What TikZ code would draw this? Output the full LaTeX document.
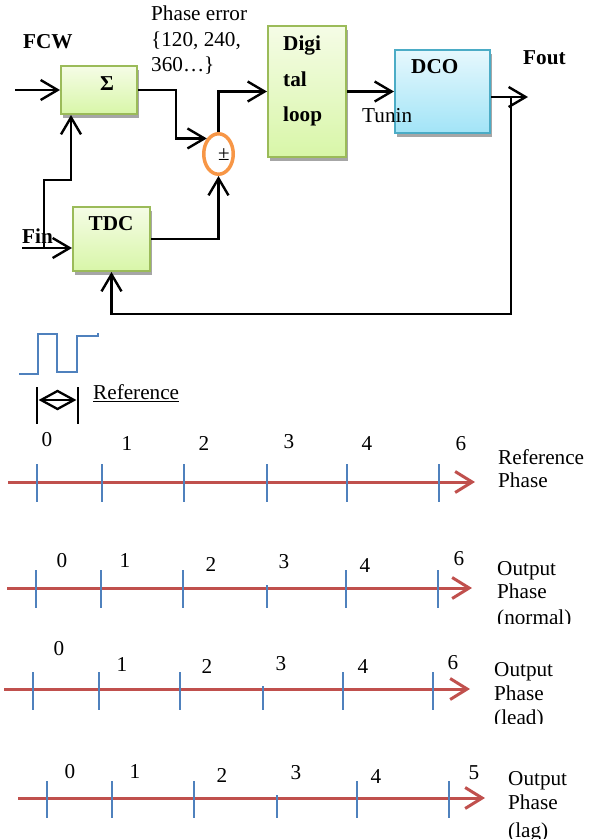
\documentclass[tikz,border=0pt]{standalone}
\usepackage{fontspec}
\setmainfont{Liberation Serif}
\usetikzlibrary{arrows.meta,shapes.geometric,shadows}
\definecolor{gborder}{HTML}{9BBB59}
\definecolor{gtop}{HTML}{F5FCE6}
\definecolor{gbot}{HTML}{D8F6A8}
\definecolor{bborder}{HTML}{4BACC6}
\definecolor{btop}{HTML}{E6F8FD}
\definecolor{bbot}{HTML}{A2E4F7}
\definecolor{ocirc}{HTML}{F79646}
\definecolor{redl}{HTML}{C0504D}
\definecolor{bluel}{HTML}{4F81BD}
\begin{document}
\begin{tikzpicture}[x=1pt,y=-1pt,
  every node/.style={font=\fontsize{21.2}{25}\selectfont, inner sep=0pt},
  txt/.style={text height=0.7em, text depth=0pt},
  bx/.style={draw, line width=2pt, drop shadow={shadow xshift=2pt, shadow yshift=-4pt, opacity=1, fill=black!35}},
  gbox/.style={bx, draw=gborder, top color=gtop, bottom color=gbot},
  bbox/.style={bx, draw=bborder, top color=btop, bottom color=bbot},
  conn/.style={draw=black, line width=2.4pt, -{Straight Barb[length=17pt,width=20pt]}},
  plain/.style={draw=black, line width=2.3pt},
  rline/.style={draw=redl, line width=3pt, -{Straight Barb[length=17pt,width=21pt]}},
  tk/.style={draw=bluel, line width=2pt},
  wave/.style={draw=bluel, line width=2.2pt}
]
\useasboundingbox (0,0) rectangle (590,839);

% ---------- block diagram ----------
\node[gbox, minimum width=76pt, minimum height=48pt] (sig) at (99,90) {};
\node[gbox, minimum width=77pt, minimum height=64pt] (tdc) at (111.5,239) {};
\node[gbox, minimum width=78pt, minimum height=131pt] (dl) at (307,91.5) {};
\node[bbox, minimum width=95pt, minimum height=83pt] (dco) at (442.5,91.5) {};
\node[ellipse, draw=ocirc, line width=3.5pt, minimum width=29.5pt, minimum height=40.5pt] (sum) at (218.5,154) {};

\node[txt] (sigl) at (107,87) {\textbf{Σ}};
\node[txt] (tdcl) at (111,227) {\textbf{TDC}};
\node[txt,anchor=west] (dl1) at (283,47) {\textbf{Digi}};
\node[txt,anchor=west] (dl2) at (283,83) {\textbf{tal}};
\node[txt,anchor=west] (dl3) at (283,118) {\textbf{loop}};
\node[txt,anchor=west] (dcol) at (411,70) {\textbf{DCO}};
\node[txt,anchor=west] (fout) at (523,61) {\textbf{Fout}};
\node[txt,anchor=west] (fcw) at (23,45) {\textbf{FCW}};
\node[txt,anchor=west] (finl) at (22,240) {\textbf{Fin}};
\node[txt,anchor=west] (tun) at (362,119) {Tunin};
\node[txt,anchor=west] (pe1) at (151,17) {Phase error};
\node[txt,anchor=west] (pe2) at (151,43) {\{120, 240,};
\node[txt,anchor=west] (pe3) at (151,68) {360…\}};
\node[txt, font=\fontsize{21}{24}\selectfont] (pm) at (224,157) {±};

\coordinate (fcwin) at (15,90);
\coordinate (fin) at (22,248);
\coordinate (br) at (44,248);
\coordinate (j1) at (71,180);
\coordinate (j2) at (176,90);
\coordinate (fo) at (528,97);
\coordinate (fb) at (511,97);
\coordinate (fbb) at (511,314);

\draw[conn] (fcwin) -- (sig.west);
\draw[conn] (sig.east) -- (j2) |- (sum.north west);
\draw[conn] (sum.north) |- (dl.west);
\draw[conn] (dl.east) -- (dco.west);
\draw[conn] (dco.east |- fo) -- (fo);
\draw[conn] (fb) -- (fbb) -| (tdc.south);
\draw[conn] (tdc.east) -| (sum.south);
\draw[conn] (fin) -- (tdc.west |- fin);
\draw[conn] (br) |- (j1) -- (j1 |- sig.south);

% ---------- reference waveform ----------
\draw[wave] (19,374) -- (38,374) -- (38,334) -- (57,334) -- (57,372) -- (77,372) -- (77,336) -- (98,336) -- (98,333);
\coordinate (bl) at (37,387);
\coordinate (bl2) at (37,424);
\coordinate (brr) at (78,387);
\coordinate (brr2) at (78,424);
\draw[plain] (bl) -- (bl2);
\draw[plain] (brr) -- (brr2);
\draw[plain, line join=miter] (41,400) -- (57.5,391) -- (74,400) -- (57.5,409) -- cycle;
\draw[plain] (41,400) -- (74,400);
\node[txt,anchor=west] (refl) at (93,396) {\underline{Reference}};

% ---------- row 1: reference phase ----------
\draw[rline] (8,482) -- (475,482);
\foreach \x in {37,102,184,267,347,439} \draw[tk] (\x,464) -- (\x,502);
\foreach \x/\y/\t in {47/443/0,127/447/1,204/447/2,289/445/3,367/447/4,461/447/6}
  \node[txt] (ra\t) at (\x,\y) {\t};
\node[txt,anchor=west] (r1a) at (498,461) {Reference};
\node[txt,anchor=west] (r1b) at (498,484) {Phase};

% ---------- row 2: output normal ----------
\draw[rline] (7,588) -- (472,588);
\foreach \x in {36,101,183,346,438} \draw[tk] (\x,570) -- (\x,608);
\draw[tk] (267,585) -- (267,608);
\foreach \x/\y/\t in {62/564/0,125/564/1,211/568/2,284/565/3,365/569/4,459/562/6}
  \node[txt] (rb\t) at (\x,\y) {\t};
\node[txt,anchor=west] (r2a) at (497,572) {Output};
\node[txt,anchor=west] (r2b) at (497,595) {Phase};
\begin{scope}
\clip (480,600) rectangle (590,623);
\node[txt,anchor=west] (r2c) at (497,621) {(normal)};
\end{scope}

% ---------- row 3: output lead ----------
\draw[rline] (4,689) -- (470,689);
\foreach \x in {33,99,180,343,433} \draw[tk] (\x,672) -- (\x,710);
\draw[tk] (263,686) -- (263,710);
\foreach \x/\y/\t in {59/652/0,122/668/1,207/670/2,281/667/3,363/670/4,453/666/6}
  \node[txt] (rc\t) at (\x,\y) {\t};
\node[txt,anchor=west] (r3a) at (494,673) {Output};
\node[txt,anchor=west] (r3b) at (494,697) {Phase};
\begin{scope}
\clip (480,705) rectangle (590,723);
\node[txt,anchor=west] (r3c) at (494,721) {(lead)};
\end{scope}

% ---------- row 4: output lag ----------
\draw[rline] (18,798) -- (485,798);
\foreach \x in {47,112,194,357,449} \draw[tk] (\x,781) -- (\x,818);
\draw[tk] (277,795) -- (277,818);
\foreach \x/\y/\t in {70/775/0,135/775/1,222/779/2,296/776/3,376/780/4,474/776/5}
  \node[txt] (rd\t) at (\x,\y) {\t};
\node[txt,anchor=west] (r4a) at (508,782) {Output};
\node[txt,anchor=west] (r4b) at (508,806) {Phase};
\begin{scope}
\clip (480,815) rectangle (590,839);
\node[txt,anchor=west] (r4c) at (508,834) {(lag)};
\end{scope}
\end{tikzpicture}
\end{document}
